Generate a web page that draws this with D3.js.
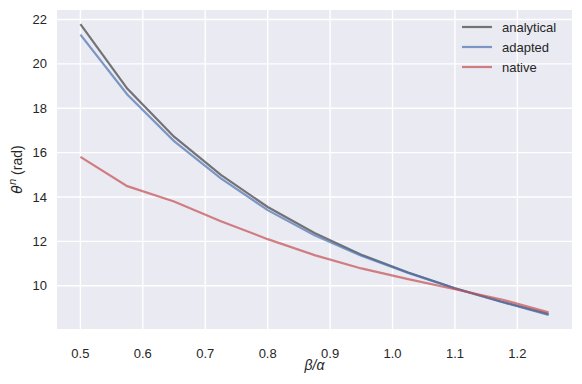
<!DOCTYPE html>
<html>
<head>
<meta charset="utf-8">
<script src="https://cdn.jsdelivr.net/npm/d3@7"></script>
<style>
  body { margin: 0; background: #fff; }
  text { font-family: "Liberation Sans", Arial, sans-serif; fill: #262626; }
</style>
</head>
<body>
<svg id="chart" width="582" height="384"></svg>
<script>
const ratios = [0.5, 0.575, 0.65, 0.725, 0.8, 0.875, 0.95, 1.025, 1.1, 1.175, 1.25];
const analytical = [21.79, 18.89, 16.72, 15.0, 13.55, 12.38, 11.4, 10.6, 9.89, 9.28, 8.72];
const adapted = [21.32, 18.62, 16.52, 14.84, 13.41, 12.27, 11.35, 10.58, 9.88, 9.27, 8.68];
const native = [15.81, 14.49, 13.8, 12.91, 12.1, 11.38, 10.78, 10.3, 9.84, 9.38, 8.8];
const xTicks = [0.5, 0.6, 0.7, 0.8, 0.9, 1.0, 1.1, 1.2];
const yTicks = [10, 12, 14, 16, 18, 20, 22];

const seriesNames = ["analytical", "adapted", "native"];
const seriesValues = [analytical, adapted, native];
const seriesColours = ["rgba(85,85,85,0.8)", "rgba(76,114,176,0.7)", "rgba(196,78,82,0.7)"];

const svg = d3.select("#chart");
const margin = {top: 10, right: 10, bottom: 55, left: 57};
const width = +svg.attr("width");
const height = +svg.attr("height");
const innerWidth = width - margin.left - margin.right;
const innerHeight = height - margin.top - margin.bottom;

const chart = svg.append("g")
    .attr("transform", "translate(" + margin.left + "," + margin.top + ")");

const x = d3.scaleLinear().domain([0.4625, 1.2875]).range([0, innerWidth]);
const y = d3.scaleLinear().domain([8.05, 22.43]).range([innerHeight, 0]);

chart.append("rect")
    .attr("width", innerWidth)
    .attr("height", innerHeight)
    .attr("fill", "#eaeaf2");

// grid
chart.selectAll(".xgrid")
    .data(xTicks)
    .enter().append("line")
    .attr("x1", d => x(d)).attr("x2", d => x(d))
    .attr("y1", 0).attr("y2", innerHeight)
    .attr("stroke", "#fff").attr("stroke-width", 1.4);

chart.selectAll(".ygrid")
    .data(yTicks)
    .enter().append("line")
    .attr("y1", d => y(d)).attr("y2", d => y(d))
    .attr("x1", 0).attr("x2", innerWidth)
    .attr("stroke", "#fff").attr("stroke-width", 1.4);

// tick labels
chart.selectAll(".xlab")
    .data(xTicks)
    .enter().append("text")
    .attr("x", d => x(d))
    .attr("y", innerHeight + 20)
    .attr("dy", "0.71em")
    .attr("text-anchor", "middle")
    .attr("font-size", 13)
    .text(d => d.toFixed(1));

chart.selectAll(".ylab")
    .data(yTicks)
    .enter().append("text")
    .attr("x", -10)
    .attr("y", d => y(d))
    .attr("dy", "0.35em")
    .attr("text-anchor", "end")
    .attr("font-size", 13)
    .text(d => d);

// axis titles
svg.append("text")
    .attr("x", margin.left + innerWidth / 2)
    .attr("y", 370)
    .attr("text-anchor", "middle")
    .attr("font-size", 14)
    .attr("font-family", "DejaVu Sans")
    .attr("font-style", "italic")
    .text("β/α");

const yTitle = svg.append("text")
    .attr("transform", "translate(22," + (margin.top + innerHeight / 2) + ") rotate(-90)")
    .attr("text-anchor", "middle")
    .attr("font-size", 14);
yTitle.append("tspan").attr("font-family", "DejaVu Sans").attr("font-style", "italic").text("θ");
yTitle.append("tspan").attr("font-family", "DejaVu Sans").attr("font-style", "italic")
    .attr("font-size", 10).attr("dy", -6).text("n");
yTitle.append("tspan").attr("dy", 6).text(" (rad)");

// lines
const line = d3.line()
    .x((d, i) => x(ratios[i]))
    .y(d => y(d));

seriesValues.forEach((vals, i) => {
    chart.append("path")
        .datum(vals)
        .attr("d", line)
        .attr("fill", "none")
        .attr("stroke", seriesColours[i])
        .attr("stroke-width", 2.2);
});

// legend
const legend = chart.append("g")
    .attr("transform", "translate(" + (innerWidth - 110) + ",17)");

seriesNames.forEach((name, i) => {
    const g = legend.append("g").attr("transform", "translate(0," + (i * 20) + ")");
    g.append("line")
        .attr("x1", 0).attr("x2", 30)
        .attr("stroke", seriesColours[i])
        .attr("stroke-width", 2.2);
    g.append("text")
        .attr("x", 40)
        .attr("dy", "0.35em")
        .attr("font-size", 13)
        .text(name);
});
</script>
</body>
</html>
